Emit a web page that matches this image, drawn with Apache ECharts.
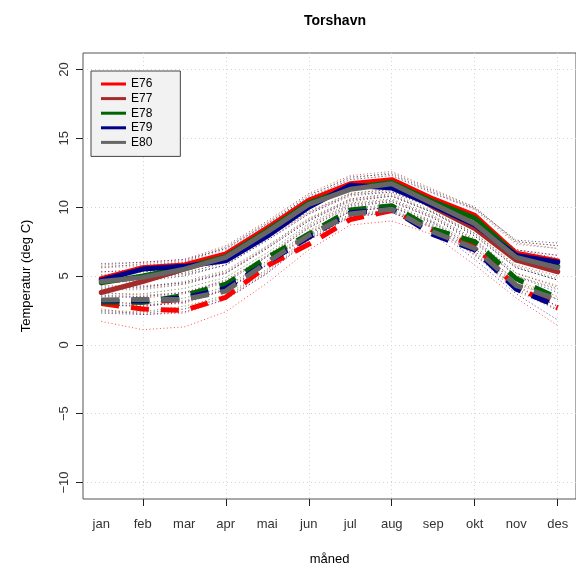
<!DOCTYPE html>
<html>
<head>
<meta charset="utf-8">
<script src="https://cdn.jsdelivr.net/npm/echarts@6/dist/echarts.min.js"></script>
<style>
  html, body { margin: 0; padding: 0; background: #fff; }
  #main { width: 576px; height: 572px; }
</style>
</head>
<body>
<div id="main"></div>
<script>
// months and tick labels
var months = ['jan', 'feb', 'mar', 'apr', 'mai', 'jun', 'jul', 'aug', 'sep', 'okt', 'nov', 'des'];
var monthNo = [1, 2, 3, 4, 5, 6, 7, 8, 9, 10, 11, 12];
var xTicks = [2, 4, 6, 8, 10, 12];
var yTicks = [-10, -5, 0, 5, 10, 15, 20];

var names = ['E76', 'E77', 'E78', 'E79', 'E80'];
var colors = ['#ff0000', '#a52a2a', '#006400', '#00008b', '#666666'];

// thick solid lines
var e76Upper = [4.8, 5.6, 5.8, 6.6, 8.5, 10.5, 11.7, 12.0, 10.6, 9.4, 6.65, 6.1];
var e77Upper = [3.8, 4.6, 5.5, 6.4, 8.3, 10.3, 11.4, 11.8, 10.0, 8.45, 6.15, 5.3];
var e78Upper = [4.5, 5.0, 5.6, 6.4, 8.3, 10.3, 11.4, 11.8, 10.4, 9.2, 6.5, 5.7];
var e79Upper = [4.7, 5.5, 5.7, 6.1, 7.9, 10.0, 11.6, 11.4, 10.1, 8.7, 6.5, 6.0];
var e80Upper = [4.6, 4.9, 5.5, 6.35, 8.2, 10.2, 11.3, 11.7, 10.25, 8.8, 6.35, 5.6];

// thick dashed lines
var e76Lower = [3.0, 2.6, 2.5, 3.45, 5.75, 7.3, 9.1, 9.75, 8.3, 7.2, 4.2, 2.7];
var e77Lower = [3.2, 3.1, 3.3, 4.0, 6.0, 7.9, 9.5, 9.9, 8.2, 7.0, 4.3, 3.0];
var e78Lower = [3.1, 3.1, 3.6, 4.4, 6.35, 8.05, 9.8, 10.1, 8.4, 7.5, 4.8, 3.4];
var e79Lower = [3.2, 3.2, 3.4, 4.1, 6.0, 7.8, 9.6, 9.85, 8.0, 6.9, 4.05, 2.8];
var e80Lower = [3.25, 3.3, 3.3, 3.9, 6.0, 7.95, 9.5, 9.85, 8.2, 7.0, 4.3, 3.3];

// thin dotted member lines
var e76Members = [
  [5.8, 6.0, 6.2, 7.2, 9.0, 11.0, 12.3, 12.6, 11.3, 10.0, 7.5, 7.2],
  [5.3, 5.5, 5.7, 6.6, 8.4, 10.3, 11.6, 11.9, 10.6, 9.3, 6.9, 6.5],
  [4.9, 5.0, 5.2, 6.0, 7.8, 9.6, 11.0, 11.3, 10.0, 8.6, 6.4, 5.8],
  [4.3, 4.3, 4.5, 5.3, 7.1, 9.1, 10.6, 10.9, 9.6, 8.1, 5.8, 5.0],
  [3.8, 3.6, 3.8, 4.7, 6.5, 8.6, 10.2, 10.5, 9.3, 7.6, 5.2, 4.3],
  [3.2, 2.9, 3.0, 4.0, 5.8, 8.1, 9.7, 10.0, 8.9, 7.0, 4.7, 3.5],
  [2.6, 2.2, 2.3, 3.3, 5.2, 7.6, 9.3, 9.6, 8.5, 6.5, 4.2, 2.8],
  [1.7, 1.1, 1.3, 2.4, 4.5, 6.9, 8.7, 9.0, 8.0, 5.8, 3.4, 1.4]
];
var e77Members = [
  [5.6, 5.9, 6.1, 7.0, 8.8, 10.7, 12.0, 12.3, 11.0, 9.9, 7.4, 7.0],
  [5.0, 5.3, 5.6, 6.4, 8.2, 10.1, 11.4, 11.7, 10.4, 9.1, 6.8, 6.2],
  [4.5, 4.7, 5.0, 5.8, 7.6, 9.5, 10.8, 11.1, 9.9, 8.4, 6.2, 5.4],
  [4.0, 4.1, 4.4, 5.2, 7.0, 9.0, 10.4, 10.8, 9.6, 7.9, 5.6, 4.7],
  [3.5, 3.4, 3.7, 4.5, 6.4, 8.5, 10.0, 10.4, 9.2, 7.5, 5.0, 4.0],
  [2.9, 2.8, 3.1, 4.0, 5.9, 8.1, 9.7, 10.0, 8.9, 7.0, 4.5, 3.3],
  [2.4, 2.3, 2.6, 3.4, 5.3, 7.7, 9.4, 9.7, 8.6, 6.6, 4.0, 2.6]
];
var e78Members = [
  [5.7, 5.8, 6.0, 7.1, 8.9, 10.9, 12.1, 12.5, 11.2, 10.0, 7.5, 7.2],
  [5.1, 5.3, 5.6, 6.5, 8.3, 10.3, 11.5, 11.9, 10.6, 9.3, 6.9, 6.3],
  [4.6, 4.8, 5.2, 6.0, 7.8, 9.7, 11.0, 11.3, 10.1, 8.6, 6.3, 5.5],
  [4.1, 4.2, 4.6, 5.4, 7.2, 9.2, 10.6, 11.0, 9.7, 8.1, 5.7, 4.8],
  [3.7, 3.7, 4.1, 4.9, 6.7, 8.8, 10.3, 10.6, 9.4, 7.7, 5.2, 4.2],
  [3.1, 3.0, 3.4, 4.2, 6.1, 8.3, 9.9, 10.2, 9.0, 7.2, 4.6, 3.3],
  [2.5, 2.4, 2.8, 3.6, 5.5, 7.9, 9.5, 9.8, 8.7, 6.7, 4.1, 2.5]
];
var e79Members = [
  [5.9, 6.0, 6.2, 7.0, 8.8, 10.8, 12.2, 12.4, 11.1, 9.9, 7.6, 7.4],
  [5.3, 5.4, 5.6, 6.4, 8.2, 10.1, 11.5, 11.8, 10.5, 9.2, 6.9, 6.5],
  [4.8, 4.9, 5.1, 5.8, 7.6, 9.5, 10.9, 11.1, 10.0, 8.5, 6.3, 5.6],
  [4.2, 4.2, 4.5, 5.2, 7.0, 9.0, 10.5, 10.8, 9.6, 7.9, 5.6, 4.7],
  [3.6, 3.5, 3.8, 4.6, 6.4, 8.5, 10.1, 10.4, 9.2, 7.4, 5.0, 3.8],
  [2.9, 2.8, 3.1, 4.0, 5.8, 8.0, 9.7, 10.0, 8.8, 6.8, 4.3, 2.8],
  [2.3, 2.2, 2.4, 3.3, 5.2, 7.6, 9.3, 9.6, 8.5, 6.2, 3.7, 1.8]
];
var e80Members = [
  [5.6, 5.7, 6.0, 6.9, 8.7, 10.7, 12.0, 12.3, 11.0, 9.8, 7.3, 7.0],
  [5.0, 5.1, 5.5, 6.3, 8.2, 10.1, 11.4, 11.7, 10.5, 9.1, 6.7, 6.1],
  [4.5, 4.6, 5.0, 5.8, 7.7, 9.6, 10.9, 11.2, 10.0, 8.5, 6.2, 5.3],
  [4.0, 4.0, 4.4, 5.2, 7.1, 9.1, 10.5, 10.8, 9.6, 8.0, 5.6, 4.7],
  [3.5, 3.5, 3.8, 4.7, 6.5, 8.7, 10.2, 10.5, 9.3, 7.6, 5.0, 4.1],
  [2.9, 2.9, 3.2, 4.1, 6.0, 8.2, 9.8, 10.1, 8.9, 7.0, 4.4, 3.3],
  [2.4, 2.3, 2.6, 3.5, 5.4, 7.8, 9.4, 9.7, 8.6, 6.5, 3.9, 2.5]
];

var uppers = [e76Upper, e77Upper, e78Upper, e79Upper, e80Upper];
var lowers = [e76Lower, e77Lower, e78Lower, e79Lower, e80Lower];
var members = [e76Members, e77Members, e78Members, e79Members, e80Members];

var font = 'Liberation Sans, Arial, Helvetica, sans-serif';

// [x,y] par fra månednummer
function pairs(vals) {
  return vals.map(function (v, i) { return [monthNo[i], v]; });
}

var series = [];
// prikkede linjer først (underst)
members.forEach(function (group, c) {
  group.forEach(function (vals, k) {
    series.push({
      name: names[c] + ' m' + (k + 1),
      type: 'line',
      data: pairs(vals),
      symbol: 'none',
      silent: true,
      lineStyle: { color: colors[c], width: 1, type: [1, 2.5], opacity: 0.7 },
      z: 2
    });
  });
});
// tykke heltrukne
uppers.forEach(function (vals, c) {
  series.push({
    name: names[c],
    type: 'line',
    data: pairs(vals),
    symbol: 'none',
    color: colors[c],
    lineStyle: { color: colors[c], width: 5, cap: 'round', join: 'round' },
    z: 3
  });
});
// tykke stiplede
lowers.forEach(function (vals, c) {
  series.push({
    name: names[c] + ' lav',
    type: 'line',
    data: pairs(vals),
    symbol: 'none',
    lineStyle: { color: colors[c], width: 5, type: [18, 12], cap: 'butt' },
    z: 3
  });
});

var chart = echarts.init(document.getElementById('main'));
chart.setOption({
  backgroundColor: '#ffffff',
  animation: false,
  textStyle: { fontFamily: font },
  title: {
    text: 'Torshavn',
    left: 330,
    top: 9,
    textAlign: 'center',
    textStyle: { fontFamily: font, fontSize: 14, fontWeight: 'bold', color: '#000' }
  },
  legend: {
    orient: 'vertical',
    left: 91,
    top: 71,
    padding: [7, 28, 8, 10],
    itemWidth: 25,
    itemHeight: 3,
    itemGap: 2.6,
    itemTextGap: 11,
    backgroundColor: '#f2f2f2',
    borderColor: '#444',
    borderWidth: 1,
    borderRadius: 0,
    selectedMode: false,
    data: names.map(function (n) { return { name: n, icon: 'rect' }; }),
    textStyle: { fontFamily: font, fontSize: 12, lineHeight: 12, color: '#000' }
  },
  grid: {
    left: 83,
    top: 53,
    width: 494,
    height: 446,
    show: true,
    borderColor: '#555',
    borderWidth: 1,
    containLabel: false
  },
  xAxis: {
    type: 'value',
    min: 0.56,
    max: 12.44,
    name: 'måned',
    nameLocation: 'middle',
    nameGap: 54,
    nameTextStyle: { fontFamily: font, fontSize: 13, color: '#000' },
    axisLine: { show: false, onZero: false },
    axisTick: { show: true, length: 7, customValues: xTicks, lineStyle: { color: '#222' } },
    axisLabel: {
      customValues: monthNo,
      margin: 19,
      fontFamily: font,
      fontSize: 13,
      color: '#333',
      formatter: function (v) { return months[Math.round(v) - 1]; }
    },
    splitLine: { show: true, lineStyle: { color: '#d3d3d3', type: [1, 3] } }
  },
  yAxis: {
    type: 'value',
    min: -11.2,
    max: 21.2,
    name: 'Temperatur (deg C)',
    nameLocation: 'middle',
    nameGap: 50,
    nameRotate: 90,
    nameTextStyle: { fontFamily: font, fontSize: 13, color: '#000' },
    axisLine: { show: false, onZero: false },
    axisTick: { show: true, length: 7, customValues: yTicks, lineStyle: { color: '#222' } },
    axisLabel: {
      customValues: yTicks,
      rotate: 90,
      margin: 12,
      fontFamily: font,
      fontSize: 13,
      color: '#333',
      formatter: function (v) { return v < 0 ? '\u2212' + Math.abs(v) : String(v); }
    },
    splitLine: { show: true, lineStyle: { color: '#d3d3d3', type: [1, 3] } }
  },
  series: series
});
</script>
</body>
</html>
